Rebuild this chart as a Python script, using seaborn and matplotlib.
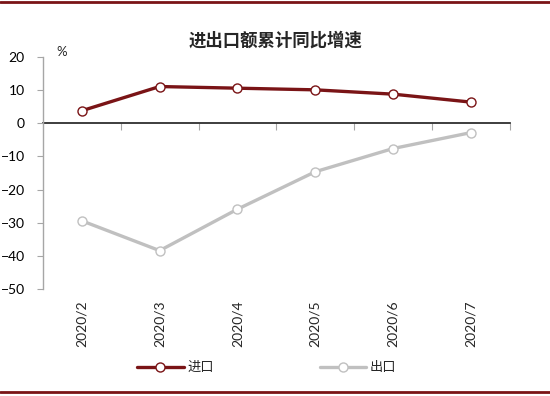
import pandas as pd
import matplotlib.pyplot as plt
import seaborn as sns
from matplotlib.lines import Line2D
from matplotlib.ticker import FixedLocator, NullFormatter

# 数据
months = ['2020/2', '2020/3', '2020/4', '2020/5', '2020/6', '2020/7']
imports = [3.8, 11.1, 10.6, 10.1, 8.8, 6.4]
exports = [-29.4, -38.4, -25.9, -14.6, -7.6, -2.8]

df = pd.DataFrame({
    '月份': months * 2,
    '增速': imports + exports,
    '类别': ['进口'] * len(months) + ['出口'] * len(months),
})

sns.set_theme(style="white")
plt.rcParams['font.family'] = ['Lato', 'Noto Sans CJK SC', 'DejaVu Sans']

fig = plt.figure(figsize=(5.5, 3.96), dpi=100)
ax = fig.add_axes([0.078, 0.270, 0.849, 0.586])

colors = {'进口': '#7a1416', '出口': '#c0c0c0'}
for name in ['进口', '出口']:
    sns.lineplot(
        data=df[df['类别'] == name], x='月份', y='增速', ax=ax,
        color=colors[name], linewidth=2.4, marker='o', markersize=6.5,
        markerfacecolor='white', markeredgecolor=colors[name],
        markeredgewidth=1.0, label=name, sort=False,
    )

ax.set_xlim(-0.5, len(months) - 0.5)
ax.set_ylim(-50, 20)
ax.set_yticks(range(-50, 21, 10))
ax.set_xlabel('')
ax.set_ylabel('')

# 坐标轴样式
for s in ['top', 'right', 'bottom']:
    ax.spines[s].set_visible(False)
ax.spines['left'].set_color('#a6a6a6')
ax.spines['left'].set_linewidth(1.0)
ax.tick_params(axis='y', direction='out', length=4, width=0.8, color='#a6a6a6',
               labelsize=10, labelcolor='#000000', pad=9, left=True)
ax.tick_params(axis='x', length=0, labelsize=10, labelrotation=90, pad=8)
for lab in ax.get_xticklabels():
    lab.set_va('top')

# 零轴
y0 = (0 - (-50)) / 70
zax = ax.secondary_xaxis(y0)
zax.spines['bottom'].set_color('#a6a6a6')
zax.spines['bottom'].set_linewidth(1.0)
zax.xaxis.set_major_locator(FixedLocator([i + 0.5 for i in range(len(months))]))
zax.xaxis.set_major_formatter(NullFormatter())
zax.tick_params(axis='x', direction='in', length=5, width=0.8, color='#a6a6a6')

fig.text(0.5, 0.898, '进出口额累计同比增速', ha='center', va='center',
         fontsize=12.5, fontweight='bold', family=['Noto Sans CJK SC'])
fig.text(0.103, 0.868, '%', ha='left', va='center', fontsize=9.5)

ax.legend(loc='center', bbox_to_anchor=(0.5, 0.5), bbox_transform=fig.transFigure,
          ncol=2, frameon=False, fontsize=9.5, handlelength=3.5,
          handletextpad=0.3, columnspacing=8.0)
leg = ax.get_legend()
leg.set_bbox_to_anchor((0.485, 0.073), transform=fig.transFigure)

# 上下边框
fig.add_artist(Line2D([0, 1], [0.995, 0.995], transform=fig.transFigure,
                      color='#7a1416', linewidth=2))
fig.add_artist(Line2D([0, 1], [0.01, 0.01], transform=fig.transFigure,
                      color='#7a1416', linewidth=2))

fig.savefig('out.png', dpi=100)
